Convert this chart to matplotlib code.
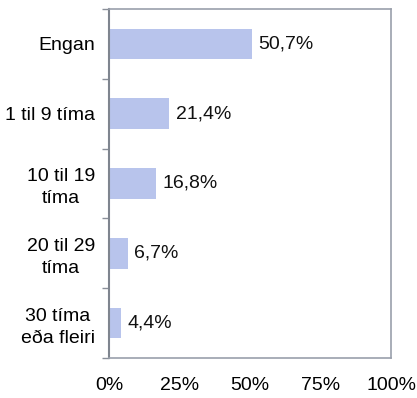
import matplotlib
matplotlib.use("Agg")
import matplotlib.pyplot as plt
from matplotlib.ticker import FixedLocator

plt.rcParams['font.family'] = ['Liberation Sans', 'DejaVu Sans']

categories = ['Engan', '1 til 9 tíma', '10 til 19\ntíma', '20 til 29\ntíma', '30 tíma\neða fleiri']
values = [50.7, 21.4, 16.8, 6.7, 4.4]
value_labels = ['50,7%', '21,4%', '16,8%', '6,7%', '4,4%']
xticks = [0, 25, 50, 75, 100]
xtick_labels = ['0%', '25%', '50%', '75%', '100%']

fig = plt.figure(figsize=(4.17, 3.98), dpi=100)
ax = fig.add_axes([109 / 417, 1 - 358 / 398, 282 / 417, 349 / 398])

ypos = list(range(len(categories)))
ax.barh(ypos, values, height=0.44, color='#b8c4ec')
for y, v, lab in zip(ypos, values, value_labels):
    ax.text(v + 2.2, y, lab, va='center', ha='left', fontsize=14, color='#111111')

ax.set_xlim(0, 100)
ax.set_ylim(len(categories) - 0.5, -0.5)

# category labels between tick marks, ticks on boundaries
ax.set_yticks(ypos)
ax.set_yticklabels(categories, fontsize=14, ha='right', multialignment='center',
                   linespacing=1.35)
ax.tick_params(axis='y', which='major', length=0, pad=10)
ax.yaxis.set_minor_locator(FixedLocator([i - 0.5 for i in range(len(categories) + 1)]))
ax.tick_params(axis='y', which='minor', length=5, width=1, color='#8a8f99', direction='out')

ax.set_xticks(xticks)
ax.set_xticklabels(xtick_labels, fontsize=14)
ax.tick_params(axis='x', length=0, pad=14)

for side in ['top', 'right', 'bottom']:
    ax.spines[side].set_color('#9aa0ab')
    ax.spines[side].set_linewidth(1.2)
ax.spines['left'].set_color('#7f858f')
ax.spines['left'].set_linewidth(1.5)

fig.savefig('out.png', dpi=100)
